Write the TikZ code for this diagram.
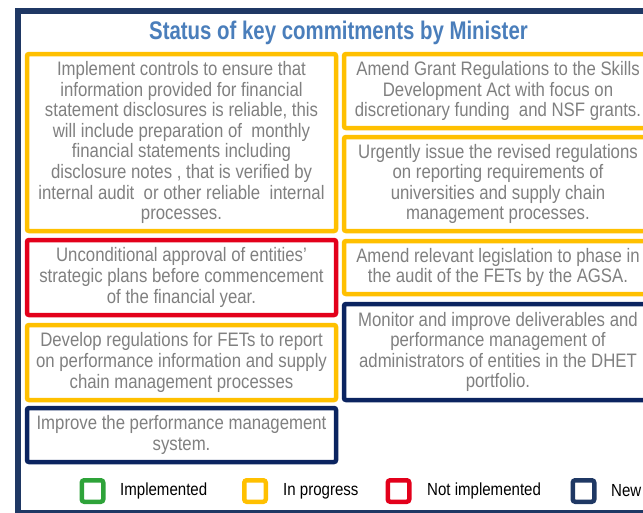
\documentclass[tikz,border=0pt]{standalone}
\usepackage{fontspec}
\setmainfont{Liberation Sans}
\newfontfamily\boxfont[FakeStretch=0.86]{Liberation Sans}
\newfontfamily\titlefont[FakeStretch=0.80]{Liberation Sans}
\definecolor{ylw}{HTML}{FFC000}
\definecolor{rd}{HTML}{E3001B}
\definecolor{nvy}{HTML}{0B2460}
\definecolor{frm}{HTML}{1F3864}
\definecolor{grn}{HTML}{2EA339}
\definecolor{ttl}{HTML}{4A7EBB}
\definecolor{txt}{HTML}{808080}
\tikzset{
  box/.style={draw, line width=4.5pt, rounded corners=2pt, align=center,
    font=\boxfont\fontsize{19.5}{20.6}\selectfont, text=txt, inner sep=0pt},
  legsq/.style={draw, line width=4.5pt, rounded corners=2.5pt, minimum size=21.5pt, inner sep=0pt},
  legtxt/.style={anchor=west, inner sep=0pt, text=black, font=\boxfont\fontsize{17.5}{20}\selectfont},
}
\begin{document}
\begin{tikzpicture}[x=1pt,y=-1pt]
\useasboundingbox (0,0) rectangle (643,512);
\clip (0,0) rectangle (643,512);
\fill[white] (0,0) rectangle (643,512);
\draw[frm, line width=6pt] (18,11) rectangle (700,513);

\node[anchor=base, inner sep=0pt, text=ttl, font=\titlefont\bfseries\fontsize{25.5}{28}\selectfont] (title) at (338.5,39) {Status of key commitments by Minister};

\node[box, draw=ylw, minimum width=309pt, minimum height=177pt] (b1) at (181.5,142.5)
 {Implement controls to ensure that\\information provided for financial\\statement disclosures is reliable, this\\will include preparation of\ \ monthly\\financial statements including\\disclosure notes , that is verified by\\internal audit\ \ or other reliable\ \ internal\\processes.};
\node[box, draw=ylw, minimum width=308pt, minimum height=74pt] (b2) at (498,91)
 {Amend Grant Regulations to the Skills\\Development Act with focus on\\discretionary funding\ \ and NSF grants.};
\node[box, draw=ylw, minimum width=308pt, minimum height=94pt] (b3) at (498,184)
 {Urgently issue the revised regulations\\on reporting requirements of\\universities and supply chain\\management processes.};
\node[box, draw=rd, minimum width=309pt, minimum height=75pt] (b4) at (181.5,277.5)
 {Unconditional approval of entities’\\strategic plans before commencement\\of the financial year.};
\node[box, draw=ylw, minimum width=308pt, minimum height=53pt] (b5) at (498,267.5)
 {Amend relevant legislation to phase in\\the audit of the FETs by the AGSA.};
\node[box, draw=ylw, minimum width=309pt, minimum height=75pt] (b6) at (181.5,362.5)
 {Develop regulations for FETs to report\\on performance information and supply\\chain management processes};
\node[box, draw=nvy, minimum width=308pt, minimum height=96pt] (b7) at (498,352)
 {Monitor and improve deliverables and\\performance management of\\administrators of entities in the DHET\\portfolio.};
\node[box, draw=nvy, minimum width=309pt, minimum height=54pt] (b8) at (181.5,435)
 {Improve the performance management\\system.};

\node[legsq, draw=grn] (lg1) at (92.5,491) {};
\node[legtxt] (lt1) at (120,491) {Implemented};
\node[legsq, draw=ylw] (lg2) at (255,491) {};
\node[legtxt] (lt2) at (283,491) {In progress};
\node[legsq, draw=rd] (lg3) at (398.5,491) {};
\node[legtxt] (lt3) at (427,491) {Not implemented};
\node[legsq, draw=frm] (lg4) at (583.5,491) {};
\node[legtxt] (lt4) at (611,491) {New};
\end{tikzpicture}
\end{document}
